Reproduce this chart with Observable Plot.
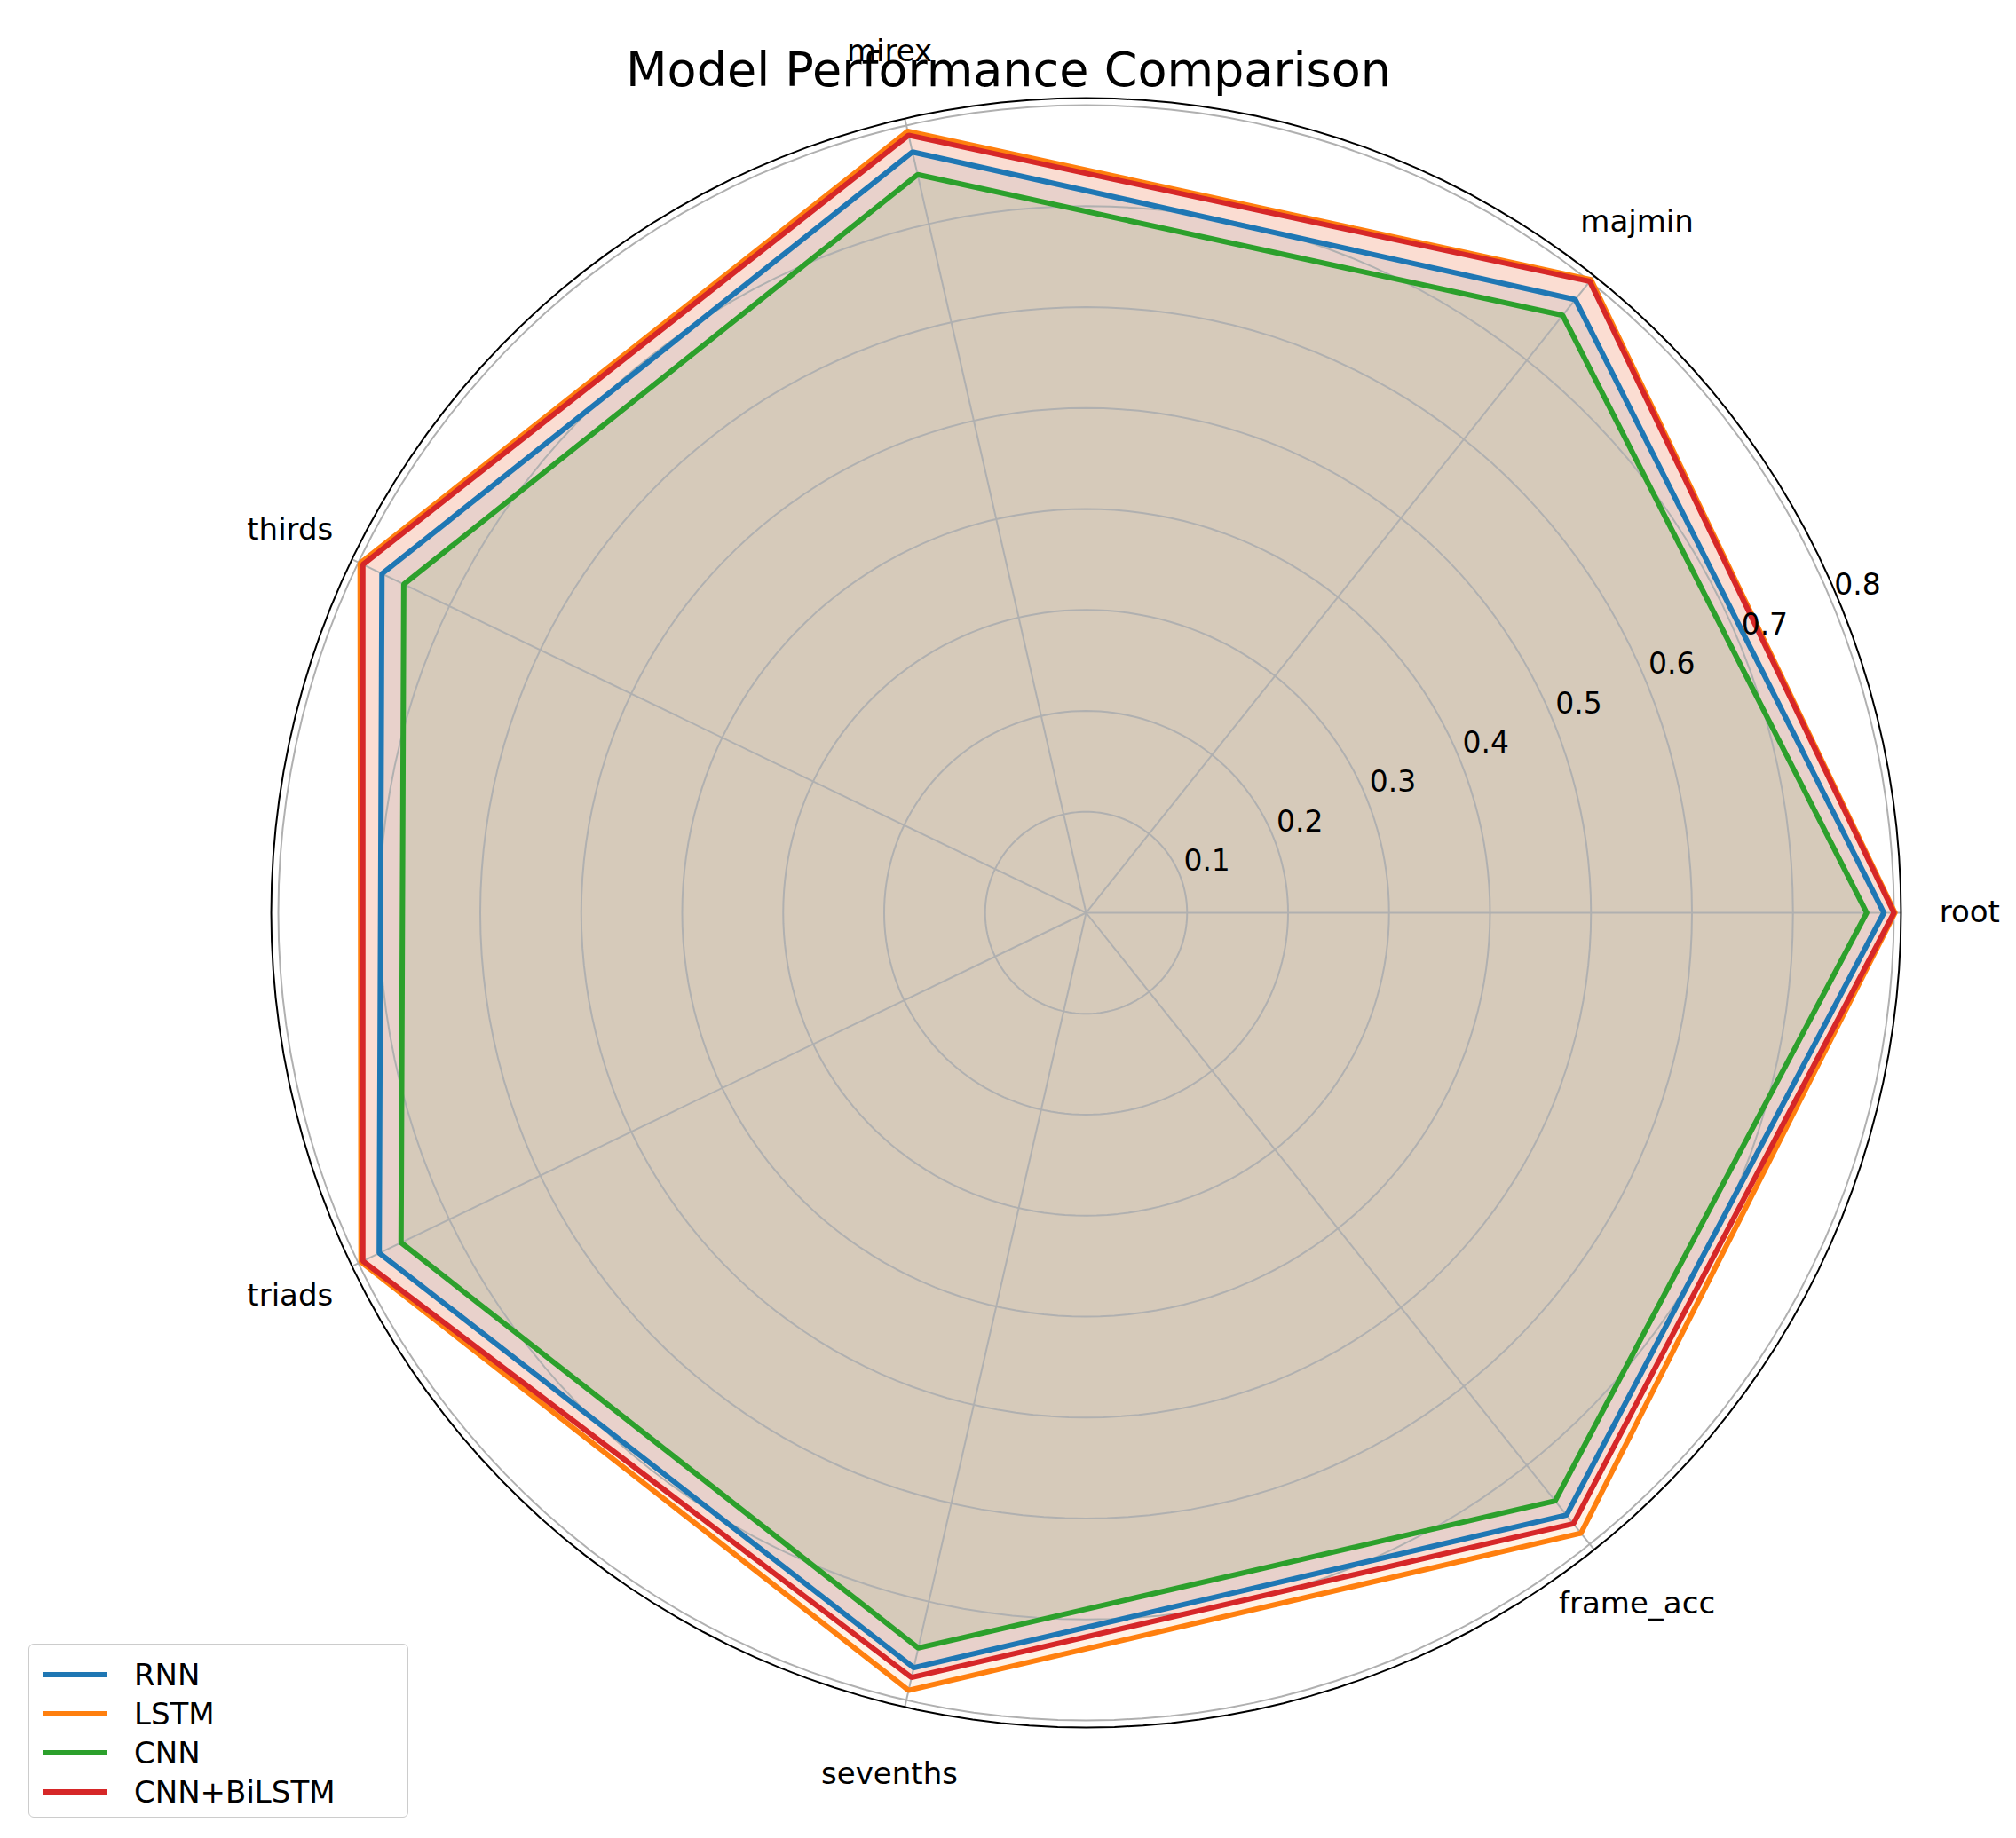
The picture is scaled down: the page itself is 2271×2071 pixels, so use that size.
<!DOCTYPE html>
<html>
<head>
<meta charset="utf-8">
<script src="https://cdn.jsdelivr.net/npm/d3@7"></script>
<script src="https://cdn.jsdelivr.net/npm/@observablehq/plot@0.6"></script>
<style>
  body { margin: 0; background: #fff; font-family: "DejaVu Sans", sans-serif; }
  #wrap { position: relative; width: 2271px; height: 2071px; }
  #legend { position: absolute; left: 32px; top: 1852px; width: 428px; height: 196px;
    border: 1.5px solid #ccc; border-radius: 6px; background: #fff; box-sizing: border-box;
    padding: 12px 0 0 16px; font-size: 34px; }
  .item { display: flex; align-items: center; height: 44px; }
  .sw { width: 72px; height: 6px; margin-right: 30px; }
</style>
</head>
<body>
<div id="wrap"><div id="chart"></div><div id="legend"></div></div>
<script>
const categories = ["root", "majmin", "mirex", "thirds", "triads", "sevenths", "frame_acc"];
const models = ["RNN", "LSTM", "CNN", "CNN+BiLSTM"];
const colors = ["#1f77b4", "#ff7f0e", "#2ca02c", "#d62728"];
const rnn = [0.790, 0.777, 0.773, 0.774, 0.777, 0.767, 0.763];
const lstm = [0.801, 0.802, 0.794, 0.798, 0.797, 0.790, 0.786];
const cnn = [0.773, 0.757, 0.750, 0.750, 0.753, 0.747, 0.745];
const cnnBilstm = [0.800, 0.800, 0.790, 0.795, 0.795, 0.777, 0.774];
const series = [rnn, lstm, cnn, cnnBilstm];
const rTicks = [0.1, 0.2, 0.3, 0.4, 0.5, 0.6, 0.7, 0.8];
const rMax = 0.807;

const W = 2271, H = 2071, cx = 1223, cy = 1028, s = 910 / 0.8;
const ang = i => 2 * Math.PI * i / categories.length;

// closed polygon per model
const polys = models.flatMap((m, k) =>
  [...series[k], series[k][0]].map((v, i) => ({model: m, x: v * Math.cos(ang(i)), y: v * Math.sin(ang(i))})));

const ringAngles = d3.range(0, 361, 2).map(a => a * Math.PI / 180);
const rings = rTicks.flatMap(r => ringAngles.map(a => ({r, x: r * Math.cos(a), y: r * Math.sin(a)})));
const spine = ringAngles.map(a => ({x: rMax * Math.cos(a), y: rMax * Math.sin(a)}));
const spokes = categories.map((c, i) => ({c, x: rMax * Math.cos(ang(i)), y: rMax * Math.sin(ang(i))}));
const labR = 0.875;
const catLabels = categories.map((c, i) => ({c, x: labR * Math.cos(ang(i)), y: labR * Math.sin(ang(i))}));
const la = 23 * Math.PI / 180;
const tickLabels = rTicks.map(r => ({r, x: (r + 0.03) * Math.cos(la), y: (r + 0.03) * Math.sin(la)}));

const chart = Plot.plot({
  width: W, height: H,
  margin: 0,
  style: {fontFamily: "DejaVu Sans", background: "#fff"},
  x: {domain: [-cx / s, (W - cx) / s], axis: null},
  y: {domain: [-(H - cy) / s, cy / s], axis: null},
  color: {domain: models, range: colors},
  marks: [
    Plot.line(polys, {x: "x", y: "y", z: "model", fill: "model", fillOpacity: 0.1, stroke: "none"}),
    Plot.line(rings, {x: "x", y: "y", z: "r", stroke: "#b0b0b0", strokeWidth: 2}),
    Plot.link(spokes, {x1: 0, y1: 0, x2: "x", y2: "y", stroke: "#b0b0b0", strokeWidth: 2}),
    Plot.line(polys, {x: "x", y: "y", z: "model", stroke: "model", strokeWidth: 6, strokeLinejoin: "miter"}),
    Plot.line(spine, {x: "x", y: "y", stroke: "#000", strokeWidth: 2}),
    Plot.text(tickLabels, {x: "x", y: "y", text: d => d.r.toFixed(1), fontSize: 33, fill: "#000"}),
    Plot.text(catLabels, {x: "x", y: "y", text: "c", fontSize: 34, fill: "#000"}),
    Plot.text(["Model Performance Comparison"], {frameAnchor: "top", dy: 58, fontSize: 54, fill: "#000"})
  ]
});
document.getElementById("chart").append(chart);

const legend = d3.select("#legend");
models.forEach((m, k) => {
  const it = legend.append("div").attr("class", "item");
  it.append("div").attr("class", "sw").style("background", colors[k]);
  it.append("span").text(m);
});
</script>
</body>
</html>
